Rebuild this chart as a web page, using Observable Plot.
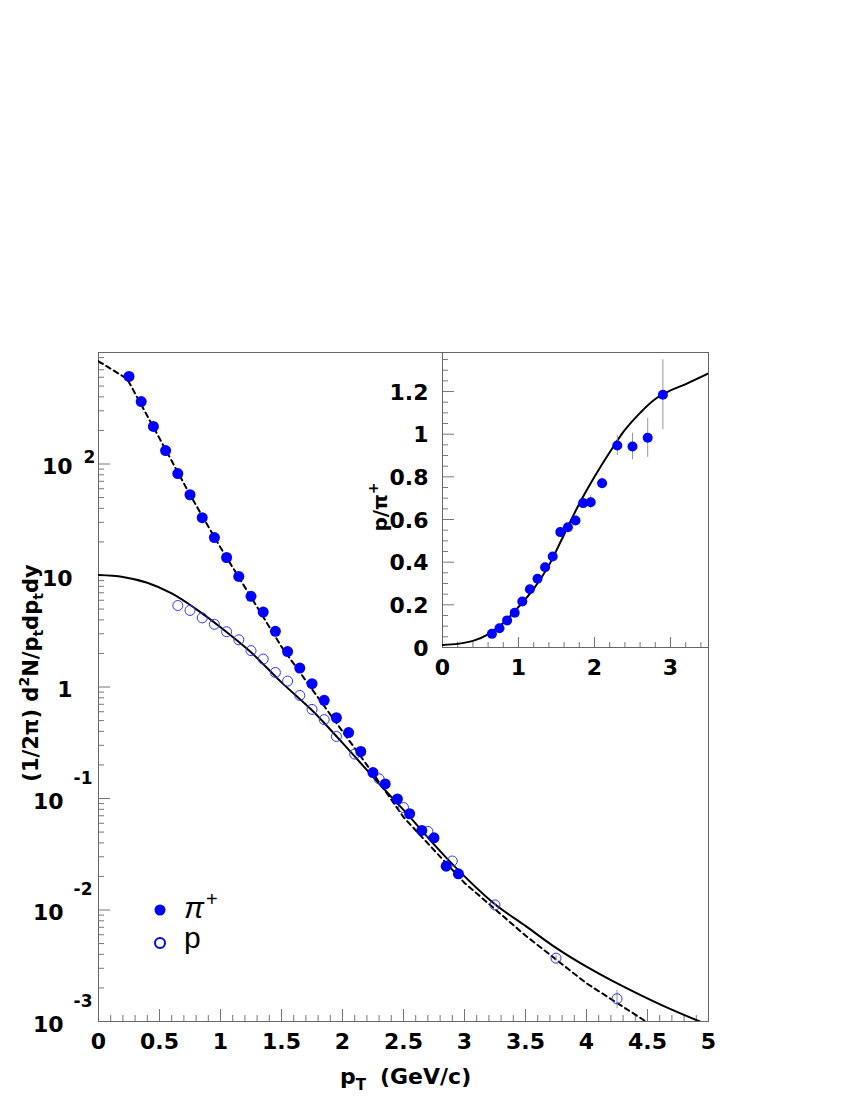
<!DOCTYPE html>
<html><head><meta charset="utf-8">
<script src="https://cdn.jsdelivr.net/npm/d3@7"></script>
<script src="https://cdn.jsdelivr.net/npm/@observablehq/plot@0.6"></script>
<style>
body{margin:0;background:#fff;}
#wrap{position:relative;width:850px;height:1100px;}
#wrap svg{position:absolute;}
</style></head><body><div id="wrap"></div>
<script>
// ---- main panel data ----
const pionPt = [0.25,0.35,0.45,0.55,0.65,0.75,0.85,0.95,1.05,1.15,1.25,1.35,1.45,1.55,1.65,1.75,1.85,1.95,2.05,2.15,2.25,2.35,2.45,2.55,2.65,2.75,2.85,2.95];
const pionYield = [610,363,217,132,82,53,33,21.9,14.5,9.8,6.5,4.7,3.16,2.08,1.48,1.07,0.76,0.53,0.39,0.264,0.171,0.135,0.099,0.073,0.0517,0.0444,0.0247,0.0211];
const protonPt = [0.65,0.75,0.85,0.95,1.05,1.15,1.25,1.35,1.45,1.55,1.65,1.75,1.85,1.95,2.1,2.3,2.5,2.7,2.9,3.25,3.75,4.25];
const protonYield = [5.38,4.86,4.17,3.65,3.13,2.65,2.12,1.78,1.35,1.13,0.84,0.63,0.51,0.36,0.25,0.15,0.083,0.0506,0.0275,0.0111,0.0037,0.0016];
const protonErr = [0,0,0,0,0,0,0,0,0,0,0,0,0,0,0,0,0,0,0,0.0004,0.0002,0.0003];
const pionFitPt = [0,0.235,0.5,0.75,1.0,1.25,1.5,1.75,2.0,2.25,2.5,3.0,3.5,4.0,4.5];
const pionFitVal = [835,580,170,53,17.8,6.4,2.3,0.955,0.40,0.168,0.068,0.0175,0.0059,0.0022,0.00098];
const protonFitPt = [0,0.2,0.4,0.6,0.8,1.0,1.25,1.5,1.75,2.0,2.34,2.5,2.885,3.24,3.5,3.76,4.0,4.22,4.63,5.0];
const protonFitVal = [10.1,9.7,8.6,6.9,5.0,3.44,2.05,1.1,0.618,0.315,0.1216,0.079,0.0269,0.0115,0.0072,0.0045,0.0031,0.00229,0.00138,0.00093];
const xTickValues = [0,0.5,1,1.5,2,2.5,3,3.5,4,4.5,5];
const yLabelValues = [1e-3,1e-2,1e-1,1,10,100];
const yLabelBase = ["10","10","10","1","10","10"];
const yLabelExp = ["-3","-2","-1","","","2"];

// ---- inset data ----
const ratioPt = [0.65,0.75,0.85,0.95,1.05,1.15,1.25,1.35,1.45,1.55,1.65,1.75,1.85,1.95,2.1,2.3,2.5,2.7,2.9];
const ratioVal = [0.064,0.090,0.127,0.163,0.216,0.273,0.322,0.376,0.427,0.541,0.564,0.595,0.677,0.681,0.770,0.947,0.942,0.983,1.185];
const ratioErr = [0.005,0.005,0.006,0.007,0.008,0.009,0.01,0.011,0.012,0.014,0.016,0.018,0.02,0.03,0.025,0.047,0.062,0.092,0.164];
const ratioFitPt = [0,0.2,0.4,0.6,0.8,1.0,1.2,1.4,1.6,1.8,2.0,2.2,2.4,2.6,2.8,3.0,3.2,3.5];
const ratioFitVal = [0.012,0.017,0.031,0.062,0.115,0.19,0.275,0.385,0.53,0.674,0.80,0.915,1.02,1.10,1.165,1.205,1.235,1.285];
const ratioXTicks = [0,1,2,3];
const ratioYTicks = [0,0.2,0.4,0.6,0.8,1,1.2];

const zip = (xs, ys, extra) => xs.map((x,i) => ({x, y: ys[i], e: extra ? extra[i] : 0}));
const pions = zip(pionPt, pionYield);
const protons = zip(protonPt, protonYield, protonErr);
const pionFit = zip(pionFitPt, pionFitVal);
const protonFit = zip(protonFitPt, protonFitVal);
const ratio = zip(ratioPt, ratioVal, ratioErr);
const ratioFit = zip(ratioFitPt, ratioFitVal);
const yLabels = yLabelValues.map((v,i)=>({v, base: yLabelBase[i], exp: yLabelExp[i]}));

const FONT = "DejaVu Sans";
const TICK = "#777";
const BLUE = "#0000ff";

// main
const FW = 610, FH = 669;
const xMinor = d3.range(1,50).map(i=>i/10).filter(v=>Math.abs(v*2-Math.round(v*2))>1e-6);
const yMinor = [];
for (let d=-3; d<=2; d++) for (let k=2;k<=9;k++) yMinor.push(k*Math.pow(10,d));

const main = Plot.plot({
  width: 850, height: 1100,
  marginLeft: 98, marginRight: 142, marginTop: 352, marginBottom: 79,
  x: {domain: [0,5], axis: null},
  y: {type: "log", domain: [1e-3, 1e3], axis: null},
  style: {background: "transparent", fontFamily: FONT},
  marks: [
    Plot.tickX(xMinor, {x: d=>d, stroke: TICK, insetTop: FH-6}),
    Plot.tickX(xTickValues, {x: d=>d, stroke: TICK, insetTop: FH-12}),
    Plot.tickY(yMinor, {y: d=>d, stroke: TICK, insetRight: FW-6}),
    Plot.tickY(yLabelValues, {y: d=>d, stroke: TICK, insetRight: FW-12}),
    Plot.frame({stroke: "#666"}),
    Plot.text(xTickValues, {x: d=>d, frameAnchor: "bottom", dy: 20, lineAnchor: "middle", text: d=>String(d), fontSize: 22, fontWeight: "bold", fill: "black"}),
    Plot.text(yLabels.filter(d=>d.v<1), {y: "v", text: "base", frameAnchor: "left", textAnchor: "end", dx: -35, dy: 3, fontSize: 22, fontWeight: "bold", fill: "black"}),
    Plot.text(yLabels.filter(d=>d.v<1), {y: "v", text: "exp", frameAnchor: "left", textAnchor: "end", dx: -6, dy: -20, fontSize: 17, fontWeight: "bold", fill: "black"}),
    Plot.text(yLabels.filter(d=>d.v>=1), {y: "v", text: "base", frameAnchor: "left", textAnchor: "end", dx: -26, dy: 3, fontSize: 22, fontWeight: "bold", fill: "black"}),
    Plot.text(yLabels.filter(d=>d.v>=1), {y: "v", text: "exp", frameAnchor: "left", textAnchor: "start", dx: -15, dy: -6, fontSize: 17, fontWeight: "bold", fill: "black"}),
    Plot.line(protonFit, {x: "x", y: "y", stroke: "black", strokeWidth: 2, curve: "catmull-rom", clip: true}),
    Plot.line(pionFit, {x: "x", y: "y", stroke: "black", strokeWidth: 2, strokeDasharray: "5,4", curve: "linear", clip: true}),
    Plot.ruleX(protons.filter(d=>d.e>0), {x: "x", y1: d=>d.y-d.e, y2: d=>d.y+d.e, stroke: "#999"}),
    Plot.dot(protons, {x: "x", y: "y", r: 5, stroke: "#3333ff", strokeWidth: 1, fill: "none"}),
    Plot.dot(pions, {x: "x", y: "y", r: 5.5, fill: BLUE, stroke: "none"})
  ]
});
main.style.left = "0px"; main.style.top = "0px";
document.getElementById("wrap").appendChild(main);

// titles & legend
const ms = d3.select(main);
const xt = ms.append("text").attr("x", 340).attr("y", 1084).attr("text-anchor", "start")
  .style("font-family", FONT).style("font-weight", "bold").style("font-size", "22px");
xt.append("tspan").text("p");
xt.append("tspan").style("font-size", "15px").attr("dy", 6).text("T");
xt.append("tspan").attr("x", 380).attr("dy", -6).text("(GeV/c)");

const yt = ms.append("text").attr("transform", "translate(38,673) rotate(-90)")
  .attr("text-anchor", "middle").style("font-family", FONT).style("font-weight", "bold").style("font-size", "21px");
yt.append("tspan").text("(1/2\u03c0) d");
yt.append("tspan").style("font-size", "14px").attr("dy", -9).text("2");
yt.append("tspan").attr("dy", 9).text("N/p");
yt.append("tspan").style("font-size", "14px").attr("dy", 5).text("t");
yt.append("tspan").attr("dy", -5).text("dp");
yt.append("tspan").style("font-size", "14px").attr("dy", 5).text("t");
yt.append("tspan").attr("dy", -5).text("dy");

ms.append("circle").attr("cx", 160).attr("cy", 910).attr("r", 5.5).attr("fill", BLUE);
ms.append("circle").attr("cx", 160).attr("cy", 943).attr("r", 5).attr("fill", "none").attr("stroke", BLUE).attr("stroke-width", 2);
const lp = ms.append("text").attr("x", 184).attr("y", 918).attr("text-anchor", "start").style("font-family", "Liberation Sans").style("font-size", "30px").style("font-style", "italic");
lp.append("tspan").text("\u03c0");
lp.append("tspan").style("font-size", "20px").style("font-style", "normal").attr("dy", -12).attr("dx", 2).text("+");
ms.append("text").attr("x", 184).attr("y", 948).attr("text-anchor", "start").style("font-family", "Liberation Sans").style("font-size", "30px").text("p");

// inset
const IFW = 266, IFH = 295;
const rxMinor = d3.range(1,18).map(i=>i/5).filter(v=>Math.abs(v-Math.round(v))>1e-6);
const ryMinor = d3.range(1,28).map(i=>i/20).filter(v=>Math.abs(v*5-Math.round(v*5))>1e-6);
const inset = Plot.plot({
  width: 370, height: 357,
  marginLeft: 82, marginRight: 22, marginTop: 22, marginBottom: 40,
  x: {domain: [0,3.5], axis: null},
  y: {domain: [0,1.383], axis: null},
  style: {background: "transparent", fontFamily: FONT, overflow: "visible"},
  marks: [
    Plot.tickX(rxMinor, {x: d=>d, stroke: TICK, insetTop: IFH-5}),
    Plot.tickX(ratioXTicks, {x: d=>d, stroke: TICK, insetTop: IFH-10}),
    Plot.tickY(ryMinor, {y: d=>d, stroke: TICK, insetRight: IFW-6}),
    Plot.tickY(ratioYTicks, {y: d=>d, stroke: TICK, insetRight: IFW-12}),
    Plot.frame({stroke: "#666"}),
    Plot.text(ratioXTicks, {x: d=>d, frameAnchor: "bottom", dy: 20, lineAnchor: "middle", text: d=>String(d), fontSize: 22, fontWeight: "bold", fill: "black"}),
    Plot.text(ratioYTicks, {y: d=>d, frameAnchor: "left", textAnchor: "end", dx: -14, dy: 1, text: d=>String(d), fontSize: 22, fontWeight: "bold", fill: "black"}),
    Plot.line(ratioFit, {x: "x", y: "y", stroke: "black", strokeWidth: 2, curve: "catmull-rom", clip: true}),
    Plot.ruleX(ratio, {x: "x", y1: d=>d.y-d.e, y2: d=>d.y+d.e, stroke: "#999"}),
    Plot.dot(ratio, {x: "x", y: "y", r: 5, fill: BLUE, stroke: "none"})
  ]
});
inset.style.left = "360px"; inset.style.top = "330px";
document.getElementById("wrap").appendChild(inset);
const is = d3.select(inset);
const it = is.append("text").attr("transform", "translate(27,177) rotate(-90)")
  .attr("text-anchor", "middle").style("font-family", FONT).style("font-weight", "bold").style("font-size", "20px");
it.append("tspan").text("p/\u03c0");
it.append("tspan").style("font-size", "14px").attr("dy", -9).text("+");
</script>
</body></html>
